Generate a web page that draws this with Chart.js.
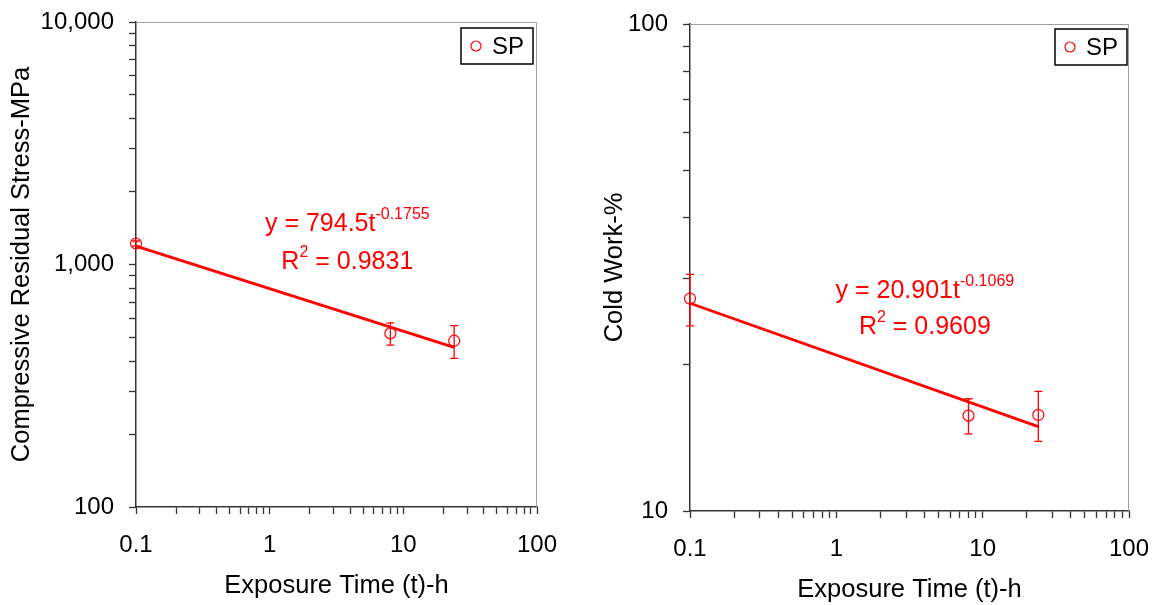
<!DOCTYPE html>
<html>
<head>
<meta charset="utf-8">
<script src="https://cdn.jsdelivr.net/npm/chart.js@4.4.0/dist/chart.umd.min.js"></script>
<style>
  body { margin: 0; background: #fff; }
  #wrap { width: 1156px; height: 605px; display: flex; }
  .panel { position: relative; width: 578px; height: 605px; }
</style>
</head>
<body>
<div id="wrap">
  <div class="panel"><canvas id="stress"></canvas></div>
  <div class="panel"><canvas id="coldwork"></canvas></div>
</div>
<script>
// datos
const seriesLabel = "SP";
const exposureTime = [0.1, 8, 24];
const stressValues = [1220, 520, 485];
const stressErrors = [30, 55, 75];
const coldWorkValues = [27.3, 15.7, 15.75];
const coldWorkErrors = [3.3, 1.3, 1.85];

// extremos de las lineas de tendencia
const fitTime = [0.1, 24];
const stressFitValues = [1190, 455];
const coldWorkFitValues = [26.7, 14.9];

// ticks
const xTickValues = [0.1, 1, 10, 100];
const xTickLabels = ["0.1", "1", "10", "100"];
const stressTickValues = [100, 1000, 10000];
const stressTickLabels = ["100", "1,000", "10,000"];
const coldWorkTickValues = [10, 100];
const coldWorkTickLabels = ["10", "100"];

const RED = "#ff0000";
const FONT = "'Liberation Sans', Arial, sans-serif";
Chart.defaults.font.family = FONT;
Chart.defaults.color = "#000";

// todos los ticks de una escala log (mayores y menores)
function logTicks(majors) {
  const min = majors[0], max = majors[majors.length - 1];
  const ticks = [];
  for (let d = min; d <= max * 1.0001; d *= 10) {
    for (let m = 1; m < 10; m++) {
      const v = +(d * m).toPrecision(6);
      if (v > max * 1.0001) break;
      ticks.push({ value: v, major: majors.includes(v) });
    }
  }
  return ticks;
}

function labelFor(values, labels) {
  return (value) => {
    const i = values.indexOf(+(+value).toPrecision(6));
    return i >= 0 ? labels[i] : "";
  };
}

function logAxis(values, labels, size, isX, title, titlePad) {
  return {
    type: "logarithmic",
    min: values[0],
    max: values[values.length - 1],
    afterBuildTicks: (scale) => { scale.ticks = logTicks(values); },
    afterFit: (scale) => {
      if (isX) scale.height = size; else scale.width = size;
      scale.paddingTop = 0;
      scale.paddingBottom = 0;
      scale.paddingLeft = 0;
      scale.paddingRight = 0;
    },
    ticks: {
      autoSkip: false,
      maxRotation: 0,
      padding: isX ? 17 : 15,
      font: { size: 24 },
      color: "#000",
      callback: labelFor(values, labels),
    },
    grid: {
      drawOnChartArea: false,
      drawTicks: true,
      tickLength: 7,
      color: "#333",
      tickWidth: 1.3,
    },
    border: { color: "#333", width: 1.5 },
    title: {
      display: true,
      text: title,
      font: { size: 25.5 },
      color: "#000",
      padding: titlePad,
    },
  };
}

// barras de error
const errorBars = {
  id: "errorBars",
  afterDatasetsDraw(chart) {
    const ctx = chart.ctx;
    const xs = chart.scales.x, ys = chart.scales.y;
    chart.data.datasets.forEach((ds) => {
      if (!ds.errors) return;
      ctx.save();
      ctx.strokeStyle = RED;
      ctx.lineWidth = 1.3;
      ds.data.forEach((p, i) => {
        const e = ds.errors[i];
        const x = xs.getPixelForValue(p.x);
        const y1 = ys.getPixelForValue(p.y + e);
        const y2 = ys.getPixelForValue(p.y - e);
        ctx.beginPath();
        ctx.moveTo(x, y1); ctx.lineTo(x, y2);
        ctx.moveTo(x - 4, y1); ctx.lineTo(x + 4, y1);
        ctx.moveTo(x - 4, y2); ctx.lineTo(x + 4, y2);
        ctx.stroke();
      });
      ctx.restore();
    });
  },
};

// marco superior y derecho gris
const frame = {
  id: "frame",
  beforeDatasetsDraw(chart) {
    const { ctx, chartArea: a } = chart;
    ctx.save();
    ctx.strokeStyle = "#a0a0a0";
    ctx.lineWidth = 1;
    ctx.beginPath();
    ctx.moveTo(a.left, a.top + 0.5);
    ctx.lineTo(a.right - 0.5, a.top + 0.5);
    ctx.lineTo(a.right - 0.5, a.bottom);
    ctx.stroke();
    ctx.restore();
  },
};

// ecuacion de la tendencia y leyenda
const notes = {
  id: "notes",
  afterDraw(chart, args, opts) {
    const { ctx, chartArea: a } = chart;
    ctx.save();
    ctx.fillStyle = RED;
    ctx.textBaseline = "alphabetic";
    const cx = a.left + a.width * opts.cx;
    opts.lines.forEach((parts, li) => {
      const y = a.top + a.height * opts.cy[li];
      let total = 0;
      parts.forEach((p) => {
        ctx.font = (p.sup ? "16px " : "25px ") + FONT;
        total += ctx.measureText(p.text).width;
      });
      let x = cx - total / 2;
      parts.forEach((p) => {
        ctx.font = (p.sup ? "16px " : "25px ") + FONT;
        ctx.fillText(p.text, x, p.sup ? y - 12 : y);
        x += ctx.measureText(p.text).width;
      });
    });
    // leyenda
    const bw = 72, bh = 36;
    const bx = a.right - opts.legendRight - bw;
    const by = a.top + opts.legendTop;
    ctx.fillStyle = "#fff";
    ctx.fillRect(bx, by, bw, bh);
    ctx.strokeStyle = "#000";
    ctx.lineWidth = 1.5;
    ctx.strokeRect(bx, by, bw, bh);
    ctx.strokeStyle = RED;
    ctx.lineWidth = 1.2;
    ctx.beginPath();
    ctx.arc(bx + 15, by + bh / 2, 5, 0, Math.PI * 2);
    ctx.stroke();
    ctx.fillStyle = "#000";
    ctx.font = "24px " + FONT;
    ctx.textBaseline = "middle";
    ctx.fillText(chart.data.datasets[0].label, bx + 31, by + bh / 2 + 1);
    ctx.restore();
  },
};

function makeChart(id, values, errors, fitValues, yVals, yLabels, cfg) {
  return new Chart(document.getElementById(id), {
    type: "scatter",
    data: {
      datasets: [
        {
          label: seriesLabel,
          data: exposureTime.map((t, i) => ({ x: t, y: values[i] })),
          errors: errors,
          clip: false,
          pointStyle: "circle",
          pointRadius: 5.5,
          pointHoverRadius: 5.5,
          pointBorderWidth: 1.2,
          borderColor: RED,
          backgroundColor: "rgba(0,0,0,0)",
        },
        {
          label: "fit",
          data: fitTime.map((t, i) => ({ x: t, y: fitValues[i] })),
          clip: false,
          showLine: true,
          pointRadius: 0,
          borderColor: RED,
          borderWidth: 2.8,
          order: 1,
        },
      ],
    },
    options: {
      responsive: false,
      animation: false,
      devicePixelRatio: 1,
      layout: { padding: cfg.padding },
      scales: {
        x: logAxis(xTickValues, xTickLabels, cfg.xHeight, true,
          "Exposure Time (t)-h", { top: 0, bottom: cfg.xTitlePad }),
        y: logAxis(yVals, yLabels, cfg.yWidth, false, cfg.yTitle,
          { top: cfg.yTitlePad, bottom: 0 }),
      },
      plugins: {
        legend: { display: false },
        tooltip: { enabled: false },
        notes: cfg.notes,
      },
    },
    plugins: [frame, errorBars, notes],
  });
}

document.getElementById("stress").width = 578;
document.getElementById("stress").height = 605;
document.getElementById("coldwork").width = 578;
document.getElementById("coldwork").height = 605;

makeChart("stress", stressValues, stressErrors, stressFitValues,
  stressTickValues, stressTickLabels, {
    padding: { top: 22, right: 41, left: 0, bottom: 0 },
    xHeight: 98, yWidth: 136, xTitlePad: 4, yTitlePad: 7,
    yTitle: "Compressive Residual Stress-MPa",
    notes: {
      cx: 0.527, cy: [0.431, 0.509], legendRight: 4, legendTop: 6,
      lines: [
        [{ text: "y = 794.5t" }, { text: "-0.1755", sup: true }],
        [{ text: "R" }, { text: "2", sup: true }, { text: " = 0.9831" }],
      ],
    },
  });

makeChart("coldwork", coldWorkValues, coldWorkErrors, coldWorkFitValues,
  coldWorkTickValues, coldWorkTickLabels, {
    padding: { top: 24, right: 27, left: 0, bottom: 0 },
    xHeight: 94, yWidth: 112, xTitlePad: 0, yTitlePad: 22,
    yTitle: "Cold Work-%",
    notes: {
      cx: 0.535, cy: [0.563, 0.637], legendRight: 2, legendTop: 5,
      lines: [
        [{ text: "y = 20.901t" }, { text: "-0.1069", sup: true }],
        [{ text: "R" }, { text: "2", sup: true }, { text: " = 0.9609" }],
      ],
    },
  });
</script>
</body>
</html>
